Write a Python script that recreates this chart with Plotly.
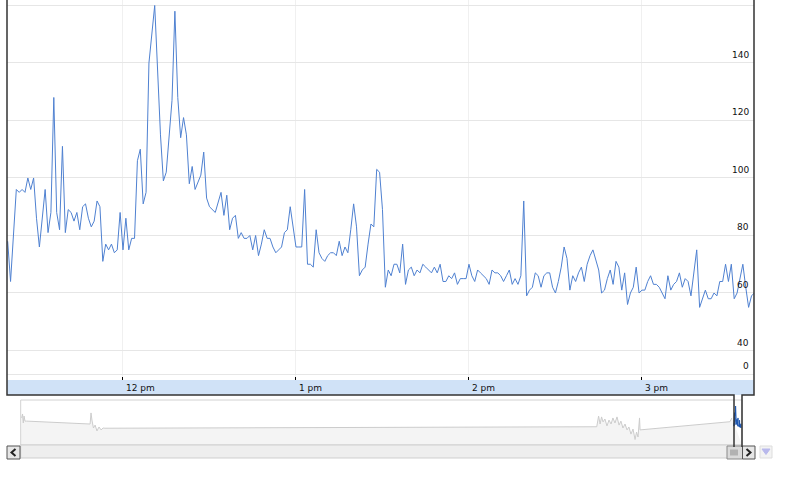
import pandas as pd
import plotly.graph_objects as go

DAY = "2009-06-15"

times = [
    "11:20", "11:21", "11:23", "11:24", "11:25", "11:26", "11:27", "11:28", "11:29", "11:30",
    "11:31", "11:32", "11:33", "11:34", "11:35", "11:36", "11:37", "11:38", "11:39", "11:40",
    "11:41", "11:42", "11:43", "11:44", "11:45", "11:46", "11:47", "11:48", "11:49", "11:50",
    "11:51", "11:52", "11:53", "11:54", "11:55", "11:56", "11:57", "11:58", "11:59", "12:00",
    "12:01", "12:02", "12:03", "12:04", "12:05", "12:06", "12:07", "12:08", "12:09", "12:11",
    "12:13", "12:14", "12:15", "12:17", "12:18", "12:19", "12:20", "12:21", "12:22", "12:23",
    "12:24", "12:25", "12:27", "12:28", "12:29", "12:30", "12:32", "12:34", "12:35", "12:36",
    "12:37", "12:38", "12:39", "12:40", "12:41", "12:42", "12:43", "12:44", "12:45", "12:46",
    "12:47", "12:48", "12:49", "12:50", "12:51", "12:52", "12:53", "12:54", "12:55", "12:56",
    "12:57", "12:58", "12:59", "13:00", "13:01", "13:02", "13:03", "13:04", "13:05", "13:06",
    "13:07", "13:08", "13:09", "13:10", "13:11", "13:12", "13:13", "13:14", "13:15", "13:16",
    "13:17", "13:18", "13:19", "13:20", "13:21", "13:22", "13:23", "13:24", "13:25", "13:26",
    "13:27", "13:28", "13:29", "13:30", "13:31", "13:32", "13:33", "13:34", "13:35", "13:36",
    "13:37", "13:38", "13:39", "13:40", "13:41", "13:42", "13:43", "13:44", "13:45", "13:46",
    "13:47", "13:48", "13:49", "13:50", "13:51", "13:52", "13:53", "13:54", "13:55", "13:56",
    "13:57", "13:58", "13:59", "14:00", "14:01", "14:02", "14:03", "14:04", "14:05", "14:06",
    "14:07", "14:08", "14:09", "14:10", "14:11", "14:12", "14:13", "14:14", "14:15", "14:16",
    "14:17", "14:18", "14:19", "14:20", "14:21", "14:22", "14:23", "14:24", "14:25", "14:26",
    "14:27", "14:28", "14:29", "14:30", "14:31", "14:32", "14:33", "14:34", "14:35", "14:36",
    "14:37", "14:38", "14:39", "14:40", "14:41", "14:42", "14:43", "14:44", "14:45", "14:46",
    "14:47", "14:48", "14:49", "14:50", "14:51", "14:52", "14:53", "14:54", "14:55", "14:56",
    "14:57", "14:58", "14:59", "15:00", "15:01", "15:02", "15:03", "15:04", "15:05", "15:06",
    "15:07", "15:08", "15:09", "15:10", "15:11", "15:12", "15:13", "15:14", "15:15", "15:16",
    "15:17", "15:18", "15:19", "15:20", "15:21", "15:22", "15:23", "15:24", "15:25", "15:26",
    "15:27", "15:28", "15:29", "15:30", "15:31", "15:32", "15:33", "15:35", "15:36", "15:37",
    "15:38", "15:39",
]

values = [
    78, 64, 96, 95, 96, 95, 100, 96, 100, 86,
    76, 86, 96, 81, 88, 128, 88, 82, 111, 81,
    89, 88, 85, 88, 82, 90, 91, 86, 83, 85,
    92, 90, 71, 77, 75, 77, 74, 75, 88, 75,
    86, 75, 79, 79, 106, 110, 91, 95, 140, 160,
    115, 99, 102, 127, 158, 128, 114, 121, 115, 98,
    104, 96, 101, 109, 93, 90, 88, 95, 87, 94,
    82, 86, 87, 79, 81, 79, 79, 80, 75, 80,
    73, 77, 82, 79, 79, 76, 74, 75, 76, 81,
    82, 90, 82, 76, 76, 76, 96, 70, 70, 69,
    82, 74, 72, 71, 73, 74, 74, 73, 78, 73,
    76, 74, 82, 91, 83, 66, 68, 69, 77, 84,
    83, 103, 102, 89, 62, 68, 66, 70, 70, 67,
    77, 63, 68, 69, 66, 68, 67, 70, 69, 68,
    67, 69, 67, 70, 64, 64, 66, 65, 67, 63,
    65, 65, 65, 70, 66, 64, 68, 67, 66, 65,
    63, 68, 67, 67, 66, 64, 66, 68, 63, 65,
    63, 66, 92, 59, 61, 62, 67, 66, 62, 66,
    67, 67, 62, 60, 64, 69, 76, 72, 61, 66,
    64, 67, 69, 64, 70, 73, 75, 71, 68, 60,
    61, 65, 68, 63, 71, 69, 61, 67, 56, 60,
    62, 69, 60, 61, 61, 64, 66, 63, 63, 62,
    60, 58, 66, 61, 63, 64, 67, 62, 65, 64,
    59, 68, 75, 55, 58, 61, 58, 58, 60, 59,
    64, 64, 70, 64, 70, 58, 60, 70, 62, 55,
    59, 60,
]

x_tick_times = ["12:00", "13:00", "14:00", "15:00"]
x_tick_labels = ["12 pm", "1 pm", "2 pm", "3 pm"]

# y axis: bottom label "0" sits at the foot of the (broken) scale
y_tick_vals = [31.8, 40, 60, 80, 100, 120, 140, 160]
y_tick_labels = ["0", "40", "60", "80", "100", "120", "140", "160"]

# navigator (overview) series: hours relative to the first point of the day
nav_hours = [
    -383.0, -382.5, -382.1, -381.7, -381.2, -380.3, -346.2, -345.7, -345.2, -344.4,
    -343.5, -342.5, -341.4, -340.3, -339.2, -338.2, -73.8, -73.7, -72.8, -72.0,
    -71.2, -70.4, -69.4, -68.3, -67.2, -66.1, -65.1, -64.0, -62.9, -61.8,
    -60.8, -59.7, -58.6, -57.5, -56.5, -55.4, -54.3, -53.2, -52.4, -51.6,
    -50.8, -50.5, -2.2, -1.1,
]
nav_values = [
    103, 122, 79, 112, 88, 88, 74, 127, 93, 55,
    69, 41, 60, 46, 55, 54, 61, 69, 112, 74,
    108, 84, 98, 65, 93, 74, 103, 79, 108, 69,
    88, 55, 74, 46, 60, 26, 50, 0, 36, 12,
    103, 46, 85, 103,
]

# ---------------------------------------------------------------------------
W, H = 800, 480
ML, MR = 7, 46
PW = W - ML - MR


def PX(x):
    return (x - ML) / PW


def PY(y):
    return 1 - y / H


dt = pd.to_datetime([f"{DAY} {t}" for t in times])
t0 = dt[0]
nav_today = [(d - t0).total_seconds() / 3600 for d in dt]

fig = go.Figure()

fig.add_trace(go.Scatter(
    x=dt, y=values, mode="lines",
    line=dict(color="#4f81d1", width=1),
    hoverinfo="skip", showlegend=False,
))

NAV_LO, NAV_HI = -26, 188.6
NAV_X0, NAV_X1 = -383.5, 4.3
fig.add_trace(go.Scatter(
    x=[NAV_X0, NAV_X1], y=[NAV_LO, NAV_LO], mode="lines",
    line=dict(width=0, color="rgba(0,0,0,0)"),
    xaxis="x2", yaxis="y2", hoverinfo="skip", showlegend=False,
))
fig.add_trace(go.Scatter(
    x=nav_hours, y=nav_values, mode="lines",
    line=dict(color="#cccccc", width=1),
    fill="tonexty", fillcolor="#f4f4f4",
    xaxis="x2", yaxis="y2", hoverinfo="skip", showlegend=False,
))
fig.add_trace(go.Scatter(
    x=nav_today, y=values, mode="lines",
    line=dict(color="#1f58b0", width=1),
    xaxis="x2", yaxis="y2", hoverinfo="skip", showlegend=False,
))

FONT = dict(family="DejaVu Sans", size=9, color="#111111")

tick_dt = pd.to_datetime([f"{DAY} {t}" for t in x_tick_times])

fig.update_layout(
    width=W, height=H,
    margin=dict(l=ML, r=MR, t=0, b=0, autoexpand=False),
    paper_bgcolor="white", plot_bgcolor="white",
    showlegend=False, hovermode=False,
    xaxis=dict(
        type="date", domain=[0, 1],
        range=[f"{DAY} 11:19:46", f"{DAY} 15:38:52"],
        tickvals=tick_dt, showticklabels=False,
        ticks="inside", ticklen=3, tickcolor="#000000", tickwidth=1,
        showgrid=True, gridcolor="#f0f0f0", gridwidth=1,
        zeroline=False, showline=False, fixedrange=True, automargin=False,
    ),
    yaxis=dict(
        domain=[PY(380), 1],
        range=[29.74, 161.9],
        side="right",
        tickvals=y_tick_vals, showticklabels=False, ticks="",
        showgrid=True, gridcolor="#e6e6e6", gridwidth=1,
        zeroline=False, showline=False, fixedrange=True, automargin=False,
    ),
    xaxis2=dict(
        domain=[PX(20.7), PX(742)], anchor="y2",
        range=[NAV_X0, NAV_X1],
        visible=False, fixedrange=True, automargin=False,
    ),
    yaxis2=dict(
        domain=[PY(445), PY(400)], anchor="x2",
        range=[NAV_LO, NAV_HI],
        visible=False, fixedrange=True, automargin=False,
    ),
)

shapes = []
# x-axis band
shapes.append(dict(type="rect", xref="paper", yref="paper",
                   x0=PX(7), x1=PX(754), y0=PY(395), y1=PY(380),
                   fillcolor="#d0e2f7", line=dict(width=0), layer="below"))


def path(points, close=False):
    s = "M " + " L ".join(f"{PX(a):.5f},{PY(b):.5f}" for a, b in points)
    return s + (" Z" if close else "")


# navigator box
shapes.append(dict(type="rect", xref="paper", yref="paper",
                   x0=PX(20.7), x1=PX(742), y0=PY(445), y1=PY(400),
                   fillcolor="rgba(0,0,0,0)", line=dict(color="#d2d2d2", width=1)))
# scrollbar track
shapes.append(dict(type="rect", xref="paper", yref="paper",
                   x0=PX(20.7), x1=PX(742), y0=PY(458), y1=PY(445),
                   fillcolor="#eeeeee", line=dict(color="#cfcfcf", width=1)))
# left button
shapes.append(dict(type="rect", xref="paper", yref="paper",
                   x0=PX(7), x1=PX(20), y0=PY(459), y1=PY(446),
                   fillcolor="#e6e6e6", line=dict(color="#555555", width=1)))
shapes.append(dict(type="path", xref="paper", yref="paper",
                   path=path([(15.5, 449), (11.5, 452.5), (15.5, 456)]),
                   line=dict(color="#222222", width=2)))
# thumb
shapes.append(dict(type="rect", xref="paper", yref="paper",
                   x0=PX(727), x1=PX(742.5), y0=PY(459), y1=PY(446),
                   fillcolor="#dadada", line=dict(color="#8a8a8a", width=1)))
for gx in (731, 733, 735, 737):
    shapes.append(dict(type="line", xref="paper", yref="paper",
                       x0=PX(gx), x1=PX(gx), y0=PY(455.5), y1=PY(449.5),
                       line=dict(color="#8a8a8a", width=1)))
# right button
shapes.append(dict(type="rect", xref="paper", yref="paper",
                   x0=PX(742.5), x1=PX(755), y0=PY(459), y1=PY(446),
                   fillcolor="#e6e6e6", line=dict(color="#555555", width=1)))
shapes.append(dict(type="path", xref="paper", yref="paper",
                   path=path([(746.5, 449), (750.5, 452.5), (746.5, 456)]),
                   line=dict(color="#222222", width=2)))
# dropdown button
shapes.append(dict(type="rect", xref="paper", yref="paper",
                   x0=PX(760), x1=PX(772), y0=PY(458), y1=PY(446),
                   fillcolor="#f3f3f3", line=dict(color="#dddddd", width=1)))
shapes.append(dict(type="path", xref="paper", yref="paper",
                   path=path([(762, 449), (770, 449), (766, 454.5)], close=True),
                   fillcolor="#b9b9ec", line=dict(color="#b9b9ec", width=1)))
# frame joining main chart to navigator window
shapes.append(dict(type="path", xref="paper", yref="paper",
                   path=path([(7, 0), (7, 395), (734, 395), (734, 447)]),
                   line=dict(color="#333333", width=1.5)))
shapes.append(dict(type="path", xref="paper", yref="paper",
                   path=path([(742, 447), (742, 395), (754, 395), (754, 0)]),
                   line=dict(color="#333333", width=1.5)))

fig.update_layout(shapes=shapes)

annotations = []
for tv, tl in zip(tick_dt, x_tick_labels):
    annotations.append(dict(
        x=tv, xref="x", y=PY(387.5), yref="paper",
        text=tl, showarrow=False, xanchor="left", yanchor="middle",
        xshift=1, font=FONT,
    ))
for tv, tl in zip(y_tick_vals, y_tick_labels):
    annotations.append(dict(
        x=1, xref="paper", y=tv, yref="y",
        text=tl, showarrow=False, xanchor="right", yanchor="middle",
        xshift=-3, yshift=8, font=FONT,
    ))
fig.update_layout(annotations=annotations)

fig.write_html(
    "out.html",
    config={"displayModeBar": False},
    post_script="document.body.style.margin='0px';document.body.style.padding='0px';",
)
